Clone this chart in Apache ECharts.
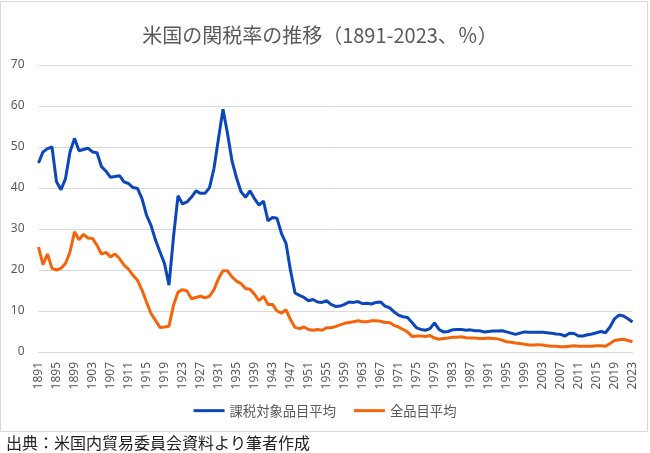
<!DOCTYPE html>
<html>
<head>
<meta charset="utf-8">
<script src="https://cdn.jsdelivr.net/npm/echarts@6/dist/echarts.min.js"></script>
<style>
html,body{margin:0;padding:0;background:#fff;}
#chart{width:650px;height:453px;}
</style>
</head>
<body>
<div id="chart"></div>
<script>
const titleText = '米国の関税率の推移（1891-2023、％）';
const sourceText = '出典：米国内貿易委員会資料より筆者作成';
const seriesNames = ['課税対象品目平均', '全品目平均'];

const years = [];
for (let y = 1891; y <= 2023; y++) years.push(String(y));

const yTicks = [0, 10, 20, 30, 40, 50, 60, 70];

const dutiable = [
  46.1, 48.8, 49.6, 50.0, 41.5, 39.6, 42.3, 48.8, 52.1,            // 1891-1899
  49.1, 49.4, 49.7, 48.8, 48.6, 45.2, 44.1, 42.6, 42.8, 43.0,      // 1900-1909
  41.5, 41.1, 40.1, 39.9, 37.4, 33.4, 30.9, 27.3, 24.4, 21.6,      // 1910-1919
  16.3, 28.1, 38.1, 36.1, 36.6, 37.8, 39.3, 38.7, 38.7, 40.1,      // 1920-1929
  44.8, 52.1, 59.2, 53.3, 46.6, 42.5, 39.1, 37.7, 39.3, 37.4,      // 1930-1939
  35.8, 36.8, 32.0, 32.8, 32.6, 28.9, 26.5, 19.9, 14.4, 13.8,      // 1940-1949
  13.3, 12.5, 12.8, 12.2, 12.1, 12.5, 11.6, 11.1, 11.2, 11.6,      // 1950-1959
  12.2, 12.1, 12.3, 11.8, 11.9, 11.7, 12.1, 12.2, 11.2, 10.8,      // 1960-1969
  9.8, 9.0, 8.6, 8.4, 7.2, 5.9, 5.5, 5.3, 5.7, 7.1,                // 1970-1979
  5.5, 4.9, 5.0, 5.4, 5.5, 5.5, 5.3, 5.4, 5.2, 5.2,                // 1980-1989
  4.9, 5.0, 5.1, 5.1, 5.2, 4.9, 4.6, 4.3, 4.6, 4.9,                // 1990-1999
  4.8, 4.8, 4.8, 4.8, 4.7, 4.6, 4.4, 4.3, 3.9, 4.6,                // 2000-2009
  4.5, 3.9, 3.9, 4.2, 4.4, 4.7, 5.0, 4.7, 6.1, 8.1,                // 2010-2019
  9.0, 8.8, 8.1, 7.3                                               // 2020-2023
];

const allGoods = [
  25.6, 21.3, 23.9, 20.4, 20.0, 20.4, 21.6, 24.4, 29.3,            // 1891-1899
  27.4, 28.7, 27.8, 27.7, 26.0, 23.9, 24.3, 23.2, 23.9, 22.8,      // 1900-1909
  21.2, 20.2, 18.7, 17.5, 15.1, 12.2, 9.4, 7.7, 6.0, 6.1,          // 1910-1919
  6.3, 11.4, 14.6, 15.2, 14.9, 13.0, 13.3, 13.6, 13.2, 13.6,       // 1920-1929
  15.2, 17.9, 19.8, 19.8, 18.3, 17.3, 16.7, 15.5, 15.3, 14.1,      // 1930-1939
  12.5, 13.6, 11.6, 11.6, 10.0, 9.5, 10.3, 7.9, 6.0, 5.7,          // 1940-1949
  6.1, 5.5, 5.3, 5.5, 5.3, 5.9, 5.9, 6.2, 6.6, 7.0,                // 1950-1959
  7.2, 7.4, 7.6, 7.4, 7.4, 7.6, 7.6, 7.5, 7.2, 7.2,                // 1960-1969
  6.5, 6.1, 5.5, 4.9, 3.8, 3.9, 3.9, 3.8, 4.0, 3.4,                // 1970-1979
  3.1, 3.3, 3.4, 3.6, 3.6, 3.7, 3.5, 3.4, 3.4, 3.3,                // 1980-1989
  3.3, 3.4, 3.3, 3.2, 2.9, 2.5, 2.4, 2.2, 2.1, 1.9,                // 1990-1999
  1.7, 1.7, 1.8, 1.7, 1.5, 1.4, 1.4, 1.3, 1.3, 1.4,                // 2000-2009
  1.5, 1.4, 1.4, 1.4, 1.4, 1.5, 1.5, 1.4, 2.1, 2.8,                // 2010-2019
  3.0, 3.1, 2.8, 2.5                                               // 2020-2023
];

const colors = ['#0B47BA', '#F5640A'];
const jp = '"Noto Sans CJK JP", "Noto Sans", sans-serif';

const chart = echarts.init(document.getElementById('chart'), null, {renderer: 'canvas'});
chart.setOption({
  animation: false,
  backgroundColor: '#ffffff',
  color: colors,
  graphic: [{
    type: 'rect',
    z: -10,
    silent: true,
    shape: {x: 0.5, y: 1.5, width: 647, height: 430},
    style: {fill: '#ffffff', stroke: '#d9d9d9', lineWidth: 1}
  }],
  title: [{
    text: titleText,
    left: 320,
    textAlign: 'center',
    top: 25,
    padding: 0,
    textStyle: {fontFamily: jp, fontSize: 20, fontWeight: 'normal', color: '#595959'}
  }, {
    text: sourceText,
    left: 6,
    top: 435,
    padding: 0,
    textStyle: {fontFamily: jp, fontSize: 16, fontWeight: 'normal', color: '#222222'}
  }],
  legend: {
    data: seriesNames,
    left: 'center',
    top: 399,
    icon: 'rect',
    itemWidth: 31,
    itemHeight: 3,
    itemGap: 18,
    textStyle: {fontFamily: jp, fontSize: 13.3, color: '#595959'}
  },
  grid: {left: 38.5, top: 65, width: 594, height: 287, containLabel: false},
  xAxis: {
    type: 'category',
    data: years,
    boundaryGap: false,
    axisLine: {show: true, lineStyle: {color: '#d9d9d9', width: 1}},
    axisTick: {show: false},
    axisLabel: {
      interval: 3,
      rotate: 90,
      margin: 10,
      fontSize: 12,
      fontFamily: '"Noto Sans", sans-serif',
      color: '#595959'
    },
    splitLine: {show: false}
  },
  yAxis: {
    type: 'value',
    min: yTicks[0],
    max: yTicks[yTicks.length - 1],
    interval: 10,
    axisLine: {show: false},
    axisTick: {show: false},
    axisLabel: {margin: 14, fontSize: 12, fontFamily: '"Noto Sans", sans-serif', color: '#595959'},
    splitLine: {lineStyle: {color: '#d9d9d9', width: 1}}
  },
  series: [{
    name: seriesNames[0],
    type: 'line',
    data: dutiable,
    showSymbol: false,
    symbol: 'none',
    lineStyle: {width: 3, color: colors[0]},
    itemStyle: {color: colors[0]},
    z: 3
  }, {
    name: seriesNames[1],
    type: 'line',
    data: allGoods,
    showSymbol: false,
    symbol: 'none',
    lineStyle: {width: 3, color: colors[1]},
    itemStyle: {color: colors[1]},
    z: 2
  }]
});
</script>
</body>
</html>
